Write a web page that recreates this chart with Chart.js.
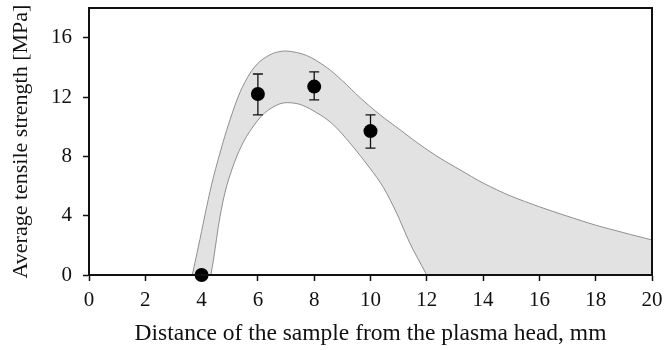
<!DOCTYPE html>
<html>
<head>
<meta charset="utf-8">
<script src="https://cdn.jsdelivr.net/npm/chart.js@4/dist/chart.umd.min.js"></script>
<style>
  html, body { margin: 0; padding: 0; background: #fff; }
  #wrap { width: 665px; height: 350px; }
</style>
</head>
<body>
<div id="wrap"><canvas id="c" width="665" height="350"></canvas></div>
<script>
// Measured points (distance, mm) and mean tensile strength (MPa)
const distances = [4, 6, 8, 10];
const strengths = [0, 12.2, 12.7, 9.7];
const errLow    = [0, 10.8, 11.8, 8.55];
const errHigh   = [0, 13.55, 13.7, 10.8];

// Upper boundary of the grey band
const upperX = [3.67, 3.94, 4.18, 4.42, 4.77, 5.01, 5.36, 5.72, 6.07, 6.55, 7.02, 7.73, 8.44, 9.0, 9.63, 10.34, 11.05, 11.76, 12.47, 13.18, 14.0, 14.95, 16.0, 16.97, 18.0, 19.0, 20.0];
const upperY = [0, 2.4, 4.6, 6.6, 9.0, 10.47, 12.3, 13.6, 14.4, 14.95, 15.1, 14.8, 14.0, 13.1, 11.95, 10.8, 9.79, 8.78, 7.88, 7.09, 6.2, 5.35, 4.6, 3.98, 3.36, 2.85, 2.36];

// Lower boundary of the grey band
const lowerX = [4.33, 4.42, 4.65, 4.89, 5.25, 5.6, 6.07, 6.43, 6.9, 7.5, 8.21, 8.68, 9.27, 9.98, 10.46, 10.93, 11.4, 11.94, 12.0];
const lowerY = [0, 1.0, 3.9, 6.0, 8.0, 9.35, 10.6, 11.2, 11.6, 11.5, 10.8, 10.13, 8.9, 7.2, 5.9, 4.17, 2.14, 0.2, 0];

const xTicks = [0, 2, 4, 6, 8, 10, 12, 14, 16, 18, 20];
const yTicks = [0, 4, 8, 12, 16];

const xTitle = 'Distance of the sample from the plasma head, mm';
const yTitle = 'Average tensile strength [MPa]';

const pts = (xs, ys) => xs.map((x, i) => ({ x: x, y: ys[i] }));

const FONT = '"Liberation Serif", "Times New Roman", serif';
const INK = '#111111';

const errorBars = {
  id: 'errorBars',
  beforeDatasetDraw(chart, args) {
    if (args.index !== 0) return;
    const ctx = chart.ctx;
    const xs = chart.scales.x, ys = chart.scales.y;
    ctx.save();
    ctx.strokeStyle = INK;
    ctx.lineWidth = 1.3;
    distances.forEach((d, i) => {
      if (errHigh[i] === errLow[i]) return;
      const px = xs.getPixelForValue(d);
      const y1 = ys.getPixelForValue(errLow[i]);
      const y2 = ys.getPixelForValue(errHigh[i]);
      ctx.beginPath();
      ctx.moveTo(px, y1); ctx.lineTo(px, y2);
      ctx.moveTo(px - 5, y1); ctx.lineTo(px + 5, y1);
      ctx.moveTo(px - 5, y2); ctx.lineTo(px + 5, y2);
      ctx.stroke();
    });
    ctx.restore();
  }
};

const frame = {
  id: 'frame',
  afterDatasetsDraw(chart) {
    const a = chart.chartArea, ctx = chart.ctx;
    ctx.save();
    ctx.strokeStyle = INK;
    ctx.lineWidth = 2;
    ctx.strokeRect(a.left, a.top, a.right - a.left, a.bottom - a.top);
    ctx.restore();
  }
};

new Chart(document.getElementById('c'), {
  type: 'line',
  data: {
    datasets: [
      {
        label: 'Measured',
        data: pts(distances, strengths),
        showLine: false,
        pointRadius: 7,
        pointHoverRadius: 7,
        pointBackgroundColor: '#000',
        pointBorderColor: '#000',
        pointBorderWidth: 0,
        clip: false
      },
      {
        label: 'Lower',
        data: pts(lowerX, lowerY),
        borderColor: '#8f8f8f',
        borderWidth: 1,
        pointRadius: 0,
        tension: 0.3,
        fill: { target: 'origin' },
        backgroundColor: '#ffffff'
      },
      {
        label: 'Upper',
        data: pts(upperX, upperY),
        borderColor: '#8f8f8f',
        borderWidth: 1,
        pointRadius: 0,
        tension: 0.3,
        fill: { target: 'origin' },
        backgroundColor: '#e2e2e2'
      }
    ]
  },
  options: {
    responsive: false,
    animation: false,
    events: [],
    layout: { padding: { left: 0, right: 13, top: 8, bottom: 0 } },
    plugins: { legend: { display: false }, tooltip: { enabled: false } },
    scales: {
      x: {
        type: 'linear',
        min: 0, max: 20,
        afterFit(s) { s.height = 75; s.paddingLeft = 0; s.paddingRight = 0; },
        afterBuildTicks(s) { s.ticks = xTicks.map(v => ({ value: v })); },
        ticks: { color: INK, font: { family: FONT, size: 21 }, padding: 7, maxRotation: 0, autoSkip: false },
        grid: { drawOnChartArea: false, drawTicks: true, tickLength: 6, tickColor: INK, tickWidth: 1.5 },
        border: { display: true, color: INK, width: 2 },
        title: { display: true, text: xTitle, color: INK, font: { family: FONT, size: 23.5 }, padding: { top: 0, bottom: 2 } }
      },
      y: {
        type: 'linear',
        min: 0, max: 18,
        afterFit(s) { s.width = 89; s.paddingTop = 0; s.paddingBottom = 0; },
        afterBuildTicks(s) { s.ticks = yTicks.map(v => ({ value: v })); },
        ticks: { color: INK, font: { family: FONT, size: 21 }, padding: 11, autoSkip: false },
        grid: { drawOnChartArea: false, drawTicks: true, tickLength: 6, tickColor: INK, tickWidth: 1.5 },
        border: { display: true, color: INK, width: 2 },
        title: { display: true, text: yTitle, color: INK, font: { family: FONT, size: 22 }, padding: { top: 8, bottom: 0 } }
      }
    }
  },
  plugins: [errorBars, frame]
});
</script>
</body>
</html>
